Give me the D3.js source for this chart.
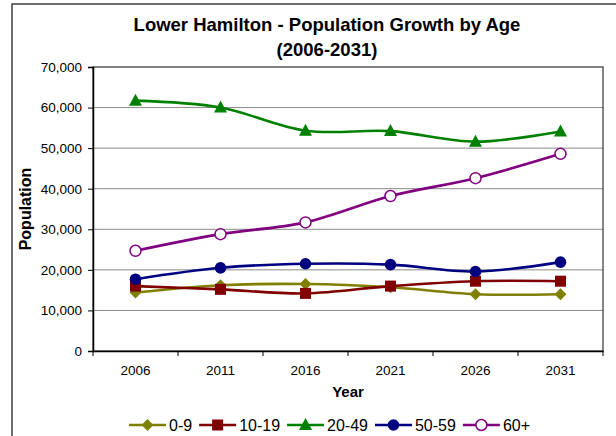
<head>
  <meta charset="UTF-8">
  <script src="https://d3js.org/d3.v7.min.js"></script>
</head>
<body style="margin:0;background:#fff">
  <svg id="chart" width="616" height="436"></svg>
</body>
<style>
  #chart text { font-family: 'Liberation Sans', Arial, sans-serif; fill: #000; }
</style>
<script type="text/javascript">
  // data
  const years = ["2006", "2011", "2016", "2021", "2026", "2031"];
  const age0to9 = [14400, 16200, 16500, 15700, 14000, 14000];
  const age10to19 = [16000, 15200, 14200, 16000, 17200, 17200];
  const age20to49 = [61700, 60000, 54300, 54200, 51600, 54100];
  const age50to59 = [17700, 20500, 21500, 21300, 19600, 21900];
  const age60plus = [24700, 28800, 31700, 38200, 42600, 48600];
  const seriesNames = ["0-9", "10-19", "20-49", "50-59", "60+"];
  const yTicks = [0, 10000, 20000, 30000, 40000, 50000, 60000, 70000];

  const series = [
    { name: seriesNames[0], values: age0to9, color: '#808000', shape: 'diamond' },
    { name: seriesNames[1], values: age10to19, color: '#800000', shape: 'square' },
    { name: seriesNames[2], values: age20to49, color: '#008000', shape: 'triangle' },
    { name: seriesNames[3], values: age50to59, color: '#000080', shape: 'circle' },
    { name: seriesNames[4], values: age60plus, color: '#800080', shape: 'open' }
  ];

  const plot = { left: 93, right: 603, top: 67, bottom: 351 };
  const svg = d3.select('#chart');

  // outer chart frame (cut off on the right and bottom)
  svg.append('rect')
    .attr('x', 12).attr('y', 4)
    .attr('width', 640).attr('height', 460)
    .attr('fill', 'none').attr('stroke', '#222').attr('stroke-width', 1.3);

  const x = d3.scaleBand().domain(years).range([plot.left, plot.right]);
  const y = d3.scaleLinear().domain([0, 70000]).range([plot.bottom, plot.top]);

  // gridlines
  svg.append('g')
    .selectAll('line')
    .data(yTicks.filter(d => d > 0 && d < 70000))
    .join('line')
    .attr('x1', plot.left).attr('x2', plot.right)
    .attr('y1', d => y(d)).attr('y2', d => y(d))
    .attr('stroke', '#8a8a8a').attr('stroke-width', 1);

  // plot frame
  svg.append('rect')
    .attr('x', plot.left).attr('y', plot.top)
    .attr('width', plot.right - plot.left).attr('height', plot.bottom - plot.top)
    .attr('fill', 'none').attr('stroke', '#333').attr('stroke-width', 1.2);

  // y axis
  const yAxis = svg.append('g')
    .attr('transform', `translate(${plot.left},0)`)
    .call(d3.axisLeft(y).tickValues(yTicks).tickFormat(d3.format(',')).tickSize(5).tickPadding(6));
  yAxis.select('.domain').attr('stroke', '#000').attr('stroke-width', 1.5);
  yAxis.selectAll('.tick line').attr('stroke', '#000');
  yAxis.selectAll('text').style('font-size', '13.5px');

  // x axis, ticks between categories
  const xAxis = svg.append('g')
    .attr('transform', `translate(0,${plot.bottom})`)
    .call(d3.axisBottom(x).tickSize(0).tickPadding(14));
  xAxis.select('.domain').attr('stroke', '#000').attr('stroke-width', 1.5);
  xAxis.selectAll('text').style('font-size', '13.5px');
  xAxis.selectAll('.sep')
    .data(d3.range(years.length + 1))
    .join('line')
    .attr('x1', i => plot.left + i * x.step()).attr('x2', i => plot.left + i * x.step())
    .attr('y1', 0).attr('y2', 5)
    .attr('stroke', '#000');

  // titles
  const title = svg.append('text')
    .attr('text-anchor', 'middle')
    .style('font-size', '18.5px').style('font-weight', 'bold');
  title.append('tspan').attr('x', 327).attr('y', 31).text('Lower Hamilton - Population Growth by Age');
  title.append('tspan').attr('x', 327).attr('y', 56).text('(2006-2031)');

  svg.append('text')
    .attr('transform', `translate(31,${(plot.top + plot.bottom) / 2}) rotate(-90)`)
    .attr('text-anchor', 'middle')
    .style('font-size', '16px').style('font-weight', 'bold')
    .text('Population');

  svg.append('text')
    .attr('x', (plot.left + plot.right) / 2).attr('y', 397)
    .attr('text-anchor', 'middle')
    .style('font-size', '15px').style('font-weight', 'bold')
    .text('Year');

  // markers
  function drawMarker(g, shape, color) {
    if (shape === 'diamond') {
      g.append('path').attr('d', d3.symbol(d3.symbolDiamond2, 90)()).attr('fill', color);
    } else if (shape === 'square') {
      g.append('rect').attr('x', -5.5).attr('y', -5.5).attr('width', 11).attr('height', 11).attr('fill', color);
    } else if (shape === 'triangle') {
      g.append('path').attr('d', 'M0,-7 L6.5,5 L-6.5,5 Z').attr('fill', color);
    } else if (shape === 'circle') {
      g.append('circle').attr('r', 5.8).attr('fill', color);
    } else {
      g.append('circle').attr('r', 5.5).attr('fill', '#fff').attr('stroke', color).attr('stroke-width', 1.5);
    }
  }

  const line = d3.line()
    .x((d, i) => x(years[i]) + x.bandwidth() / 2)
    .y(d => y(d))
    .curve(d3.curveCardinal.tension(0));

  series.forEach(s => {
    const g = svg.append('g');
    g.append('path')
      .attr('d', line(s.values))
      .attr('fill', 'none')
      .attr('stroke', s.color)
      .attr('stroke-width', 2.6);
    s.values.forEach((v, i) => {
      const m = g.append('g')
        .attr('transform', `translate(${x(years[i]) + x.bandwidth() / 2},${y(v)})`);
      drawMarker(m, s.shape, s.color);
    });
  });

  // legend
  const legend = svg.append('g').attr('transform', 'translate(0,425)');
  let lx = 129;
  series.forEach(s => {
    const item = legend.append('g');
    item.append('line')
      .attr('x1', lx).attr('x2', lx + 37)
      .attr('y1', 0).attr('y2', 0)
      .attr('stroke', s.color).attr('stroke-width', 2.6);
    const m = item.append('g').attr('transform', `translate(${lx + 18.5},0)`);
    drawMarker(m, s.shape, s.color);
    const t = item.append('text')
      .attr('x', lx + 40).attr('y', 0).attr('dy', '0.36em')
      .style('font-size', '16px')
      .text(s.name);
    lx += 40 + t.node().getComputedTextLength() + 7;
  });
</script>
